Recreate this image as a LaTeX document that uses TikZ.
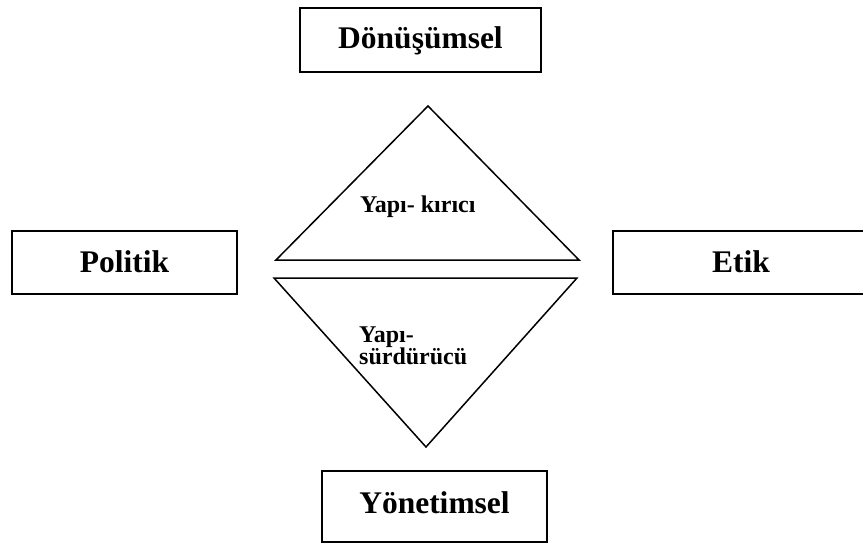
\documentclass[tikz,border=0pt]{standalone}
\usepackage{fontspec}
\setmainfont{Liberation Serif}
\begin{document}
\begin{tikzpicture}[x=1pt,y=-1pt,
  box/.style={draw,line width=2pt,inner sep=0pt,rectangle,
    font=\fontsize{31.5}{36}\selectfont\bfseries},
  tri/.style={draw,line width=1.5pt,line join=miter},
  lbl/.style={inner sep=0pt,font=\fontsize{24}{20}\selectfont\bfseries}]
\useasboundingbox (0,0) rectangle (863,543);
% boxes
\node[box,minimum width=241pt,minimum height=64pt,text height=22pt,text depth=4pt] (don) at (420.5,40) {Dönüşümsel};
\node[box,minimum width=225pt,minimum height=63pt,text height=23pt,text depth=4pt] (pol) at (124.5,262.5) {Politik};
\node[box,minimum width=256pt,minimum height=63pt,text height=23pt,text depth=4pt] (etk) at (741,262.5) {Etik};
\node[box,minimum width=225pt,minimum height=71pt,text height=20pt,text depth=7pt] (yon) at (434.5,506.5) {Yönetimsel};
% triangles
\coordinate (ua) at (428,106);
\coordinate (ul) at (276,260);
\coordinate (ur) at (579,260);
\coordinate (ll) at (274,278);
\coordinate (lr) at (577,278);
\coordinate (la) at (426,447);
\draw[tri] (ua) -- (ur) -- (ul) -- cycle;
\draw[tri] (ll) -- (lr) -- (la) -- cycle;
% labels
\node[lbl,anchor=base west] (kir) at (360,212) {Yapı- kırıcı};
\node[lbl,anchor=base west] (sur) at (359,342) {\begin{tabular}[t]{@{}l@{}}Yapı-\\sürdürücü\end{tabular}};
\end{tikzpicture}
\end{document}
